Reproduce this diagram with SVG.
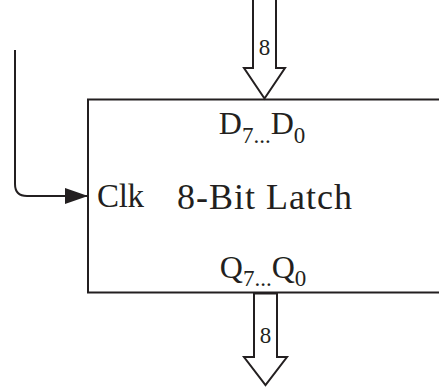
<svg xmlns="http://www.w3.org/2000/svg" width="439" height="389" viewBox="0 0 439 389">
  <style>
    .ln { fill: none; stroke: #231f20; stroke-width: 2; }
    .bus { fill: #ffffff; stroke: #231f20; stroke-width: 2; stroke-linejoin: miter; }
    .txt { font-family: "Liberation Serif", "Times New Roman", serif; fill: #231f20; }
  </style>
  <defs>
    <marker id="clkArrow" markerWidth="24" markerHeight="16" refX="23" refY="8" orient="auto" markerUnits="userSpaceOnUse">
      <polygon points="0,0 23,8 0,16" fill="#231f20"/>
    </marker>
  </defs>
  <rect width="439" height="389" fill="#ffffff"/>

  <g id="latch">
    <path class="ln" d="M445,99.5 H88 V292.5 H445"/>
    <text class="txt" x="97" y="207" font-size="33" textLength="47">Clk</text>
    <text class="txt" x="177" y="209" font-size="36" textLength="175">8-Bit Latch</text>
    <text class="txt" x="262" y="134" font-size="32" text-anchor="middle">D<tspan font-size="23" dy="9">7...</tspan><tspan dy="-9">D</tspan><tspan font-size="23" dy="9">0</tspan></text>
    <text class="txt" x="263" y="278" font-size="32" text-anchor="middle">Q<tspan font-size="23" dy="8">7...</tspan><tspan dy="-8">Q</tspan><tspan font-size="23" dy="8">0</tspan></text>
  </g>

  <g id="connectors">
    <g id="bus-in">
      <polygon class="bus" points="253,-3 253,68 244,68 264.5,98.5 285,68 276,68 276,-3"/>
      <text class="txt" x="264.5" y="55" font-size="23" text-anchor="middle">8</text>
    </g>
    <g id="bus-out">
      <polygon class="bus" points="254,293.5 254,357 244,357 265.5,385 287,357 277,357 277,293.5"/>
      <text class="txt" x="265.5" y="343" font-size="23" text-anchor="middle">8</text>
    </g>
    <path id="clk-line" class="ln" d="M15,50 V184 Q15,196 27,196 H88" marker-end="url(#clkArrow)"/>
  </g>
</svg>
